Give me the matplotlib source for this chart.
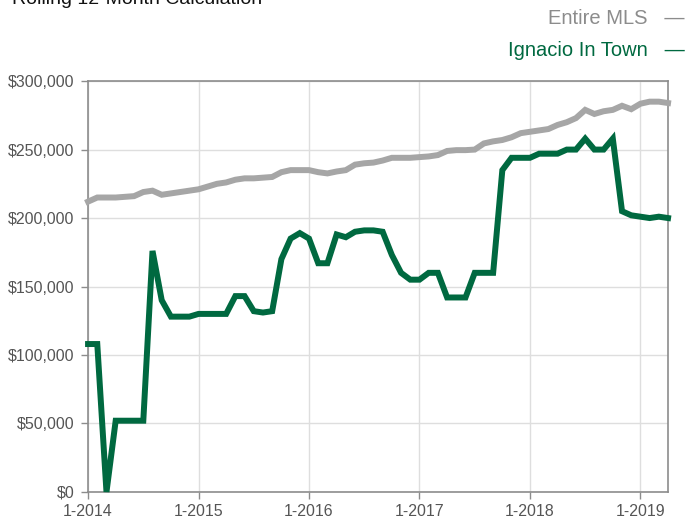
import numpy as np
import matplotlib.pyplot as plt
from matplotlib.ticker import FuncFormatter

plt.rcParams['font.family'] = ['Liberation Sans', 'DejaVu Sans']

# Monthly rolling 12-month median price, Jan 2014 .. Apr 2019
months = np.arange(64)
entire_mls = [212, 215, 215, 215, 215.5, 216, 219, 220, 217, 218,
              219, 220, 221, 223, 225, 226, 228, 229, 229, 229.5,
              230, 233.5, 235, 235, 235, 233.5, 232.6, 234, 235, 239,
              240, 240.5, 242, 244, 244, 244, 244.5, 245, 246, 249,
              249.6, 249.6, 250, 254.5, 256, 257, 259, 262, 263, 264,
              265, 268, 270, 273, 279, 276, 278, 279, 282, 279.5,
              283.5, 285, 285, 284]
ignacio = [108, 108, 0, 52, 52, 52, 52, 176, 140, 128,
           128, 128, 130, 130, 130, 130, 143, 143, 132, 131,
           132, 170, 185, 189, 185, 167, 167, 188, 186, 190,
           191, 191, 190, 173, 160, 155, 155, 160, 160, 142,
           142, 142, 160, 160, 160, 235, 244, 244, 244, 247,
           247, 247, 250, 250, 258, 250, 250, 258, 205, 202,
           201, 200, 201, 200]
entire_mls = np.array(entire_mls) * 1000
ignacio = np.array(ignacio) * 1000

tick_pos = [0, 12, 24, 36, 48, 60]
tick_labels = ['1-2014', '1-2015', '1-2016', '1-2017', '1-2018', '1-2019']

gray = '#a6a6a6'
green = '#006940'

fig = plt.figure(figsize=(6.88, 5.2), dpi=100)
ax = fig.add_axes([0.128, 0.054, 0.843, 0.790])

ax.plot(months, entire_mls, color=gray, linewidth=4.3, solid_joinstyle='miter', zorder=3, clip_on=False)
ax.plot(months, ignacio, color=green, linewidth=4.3, solid_joinstyle='miter', zorder=4, clip_on=False)

ax.set_xlim(0, 63)
ax.set_ylim(0, 300000)
ax.set_xticks(tick_pos)
ax.set_xticklabels(tick_labels)
ax.set_yticks(np.arange(0, 300001, 50000))
ax.yaxis.set_major_formatter(FuncFormatter(lambda v, p: f'${v:,.0f}'))

ax.grid(True, color='#dedede', linewidth=1)
ax.set_axisbelow(True)
for s in ax.spines.values():
    s.set_color('#8c8c8c')
    s.set_linewidth(1.2)
ax.tick_params(colors='#8c8c8c', labelcolor='#555555', labelsize=11.5, length=5, width=1)
ax.tick_params(axis='y', pad=5)

fig.text(0.018, 1 - 4 / 520, 'Rolling 12-Month Calculation', fontsize=14,
         color='#111111', va='baseline', ha='left')
fig.text(0.995, 1 - 19 / 520, 'Entire MLS   \u2014', fontsize=14.5, color='#8c8c8c',
         ha='right', va='center')
fig.text(0.995, 1 - 50 / 520, 'Ignacio In Town   \u2014', fontsize=14.5, color=green,
         ha='right', va='center')

fig.savefig('out.png', dpi=100)
